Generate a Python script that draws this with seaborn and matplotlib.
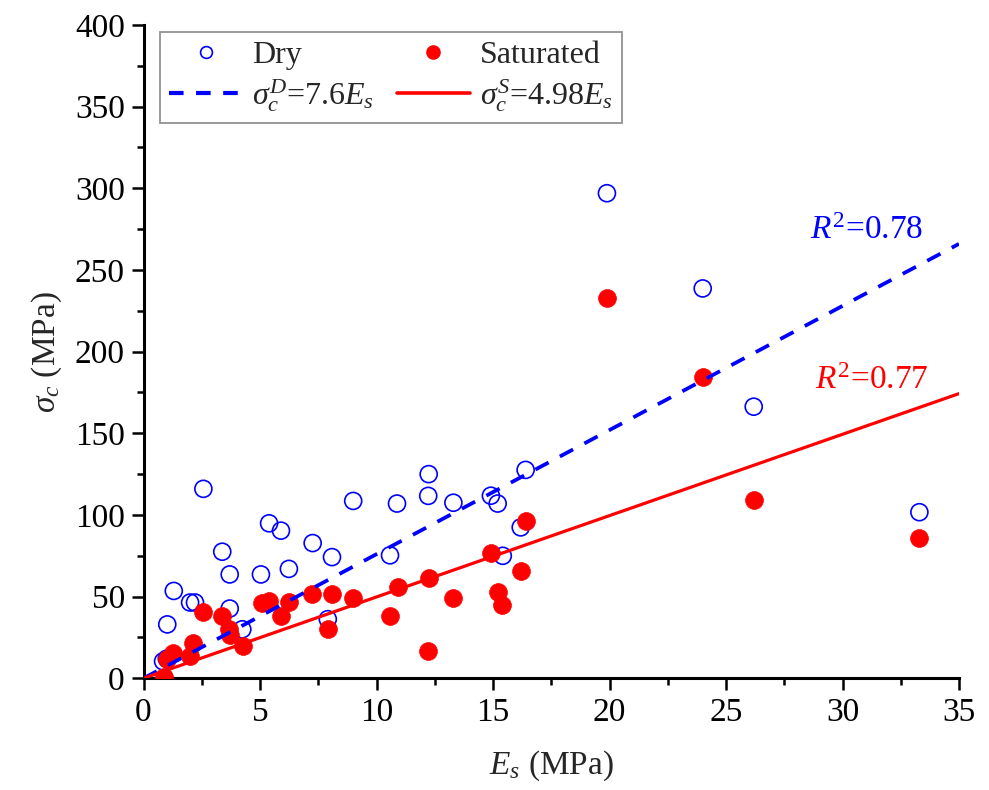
import matplotlib
matplotlib.use("Agg")
import matplotlib.pyplot as plt
from matplotlib.lines import Line2D
from matplotlib.ticker import MultipleLocator
import numpy as np
import pandas as pd
import seaborn as sns

# ---- data ----
dry_x = [0.84, 1.00, 1.02, 1.30, 2.00, 2.21, 2.57, 3.38, 3.70, 3.70, 4.24,
         5.04, 5.39, 5.90, 6.24, 7.26, 8.09, 7.91, 9.00, 10.58, 10.88,
         12.24, 12.22, 13.30, 14.91, 15.20, 16.40, 16.19, 15.42,
         19.89, 24.00, 26.19, 33.30]
dry_y = [10.4, 12.0, 33.0, 53.5, 46.4, 46.4, 116.0, 77.5, 63.6, 42.7, 30.0,
         63.6, 94.9, 90.4, 67.0, 82.8, 74.2, 36.2, 108.6, 75.3, 107.0,
         125.0, 111.7, 107.5, 111.8, 107.0, 127.6, 92.4, 75.0,
         297.0, 238.7, 166.3, 101.7]

sat_x = [0.89, 1.00, 1.28, 2.00, 2.14, 2.57, 3.38, 3.68, 3.71, 4.26,
         5.07, 5.40, 5.90, 6.24, 7.24, 8.09, 7.91, 9.00, 10.60, 10.94,
         12.24, 12.21, 13.30, 14.91, 15.20, 15.40, 16.19, 16.40,
         19.89, 24.00, 26.19, 33.30]
sat_y = [0.8, 11.8, 15.5, 13.5, 21.7, 40.7, 38.2, 29.9, 26.8, 19.8,
         46.2, 47.2, 38.2, 46.8, 51.5, 51.5, 29.9, 49.3, 38.0, 56.0,
         61.5, 16.8, 49.3, 76.9, 52.8, 44.8, 65.6, 96.5,
         233.0, 184.5, 109.0, 85.9]

slope_dry = 7.6
slope_sat = 4.98
fit_x = [0, 35]
r2_dry = 0.78
r2_sat = 0.77

x_ticks = [0, 5, 10, 15, 20, 25, 30, 35]
y_ticks = [0, 50, 100, 150, 200, 250, 300, 350, 400]

# ---- style ----
sns.set_theme(style="ticks")
plt.rcParams['font.family'] = ['Liberation Serif', 'DejaVu Serif']
plt.rcParams['mathtext.fontset'] = 'custom'
plt.rcParams['mathtext.rm'] = 'Liberation Serif'
plt.rcParams['mathtext.it'] = 'Liberation Serif:italic'
plt.rcParams['mathtext.bf'] = 'Liberation Serif:bold'

fig = plt.figure(figsize=(9.89, 7.90), dpi=100)
ax = fig.add_axes([143.5 / 989, (790 - 678.3) / 790, 815.5 / 989, 653.3 / 790])

df_dry = pd.DataFrame({"x": dry_x, "y": dry_y})
df_sat = pd.DataFrame({"x": sat_x, "y": sat_y})
fx = np.array(fit_x, dtype=float)
df_fd = pd.DataFrame({"x": fx, "y": slope_dry * fx})
df_fs = pd.DataFrame({"x": fx, "y": slope_sat * fx})

blue = "#0000FF"
red = "#FF0000"

sns.scatterplot(data=df_dry, x="x", y="y", ax=ax, marker="o", s=150,
                facecolor="none", edgecolor=blue, linewidth=1.2, zorder=3)
sns.scatterplot(data=df_sat, x="x", y="y", ax=ax, marker="o", s=165,
                color=red, edgecolor=red, linewidth=0.5, zorder=4)
sns.lineplot(data=df_fd, x="x", y="y", ax=ax, color=blue, linewidth=2.7,
             dashes=False, zorder=5).lines[-1].set_dashes((4.0, 3.4))
sns.lineplot(data=df_fs, x="x", y="y", ax=ax, color=red, linewidth=2.3, zorder=5)

ax.set_xlim(0, 35)
ax.set_ylim(0, 400)
ax.set_xticks(x_ticks)
ax.set_yticks(y_ticks)
ax.xaxis.set_minor_locator(MultipleLocator(2.5))
ax.yaxis.set_minor_locator(MultipleLocator(25))
for s in ["top", "right"]:
    ax.spines[s].set_visible(False)
for s in ["left", "bottom"]:
    ax.spines[s].set_linewidth(2.2)
    ax.spines[s].set_color("black")
ax.tick_params(which="major", direction="out", length=8.5, width=1.8,
               labelsize=24, pad=5, colors="black")
ax.tick_params(which="minor", direction="out", length=5, width=1.8, colors="black")

ax.set_xlabel(r"$E_s$ (MPa)", fontsize=24, labelpad=15)
ax.set_ylabel(r"$\sigma_c$ (MPa)", fontsize=24, labelpad=8)

ax.text(28.6, 268.7, r"$R^2$=%.2f" % r2_dry, color=blue, fontsize=24,
        va="baseline", ha="left")
ax.text(28.8, 177.3, r"$R^2$=%.2f" % r2_sat, color=red, fontsize=24,
        va="baseline", ha="left")

handles = [
    Line2D([], [], linestyle="none", marker="o", markersize=8.5,
           markerfacecolor="none", markeredgecolor=blue, markeredgewidth=1.2),
    Line2D([], [], color=blue, linewidth=3.0, dashes=(3.5, 3.0)),
    Line2D([], [], linestyle="none", marker="o", markersize=9.5,
           markerfacecolor=red, markeredgecolor=red),
    Line2D([], [], color=red, linewidth=2.6),
]
labels = ["Dry", r"$\sigma_c^D$=7.6$E_s$", "Saturated", r"$\sigma_c^S$=4.98$E_s$"]
leg = ax.legend(handles, labels, ncol=2, loc="upper left",
                bbox_to_anchor=(0.02, 0.99), borderaxespad=0,
                fontsize=23, frameon=True, fancybox=False,
                handlelength=2.3, handletextpad=0.3, columnspacing=0.7,
                labelspacing=0.2, borderpad=0.3)
leg.get_frame().set_edgecolor("#777777")
leg.get_frame().set_linewidth(1.3)

fig.savefig("out.png", dpi=100)
